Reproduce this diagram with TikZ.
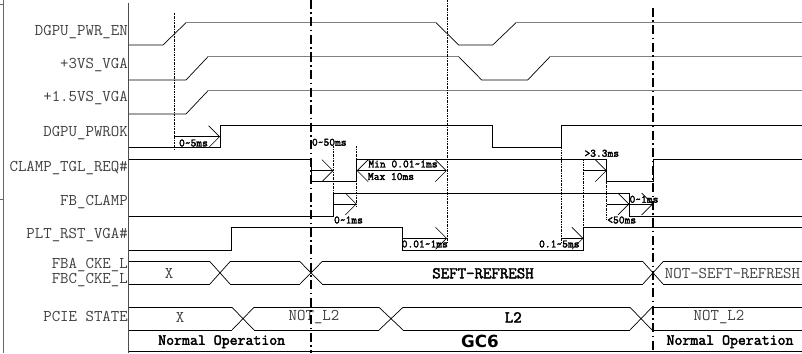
\documentclass[tikz,border=0pt]{standalone}
\usepackage{fontspec}
\newfontfamily\gcfont{DejaVu Sans}
\newfontfamily\boldmono{Latin Modern Mono}[FakeBold=2.5]
\usetikzlibrary{arrows.meta}

\tikzset{
  siglabel/.style={anchor=east, inner sep=0pt, text=black!75,
    font=\ttfamily\fontsize{16.4}{13.2}\selectfont},
  timetext/.style={inner sep=0pt, font=\boldmono\fontsize{11.2}{11}\selectfont},
  bustext/.style={inner sep=0pt, text=black!75, font=\ttfamily\fontsize{16.4}{16}\selectfont},
  busbold/.style={inner sep=0pt, font=\boldmono\fontsize{16.4}{16}\selectfont},
  phasetext/.style={inner sep=0pt, font=\boldmono\fontsize{15.4}{16}\selectfont},
  wave/.style={line width=0.7pt, black},
  wavehigh/.style={line width=1.4pt, black!50},
  phase/.style={line width=2.2pt, dash pattern=on 9pt off 3.5pt on 1.5pt off 3.5pt},
  guide/.style={line width=0.5pt, dash pattern=on 2pt off 1pt on 0.6pt off 1pt},
  dim/.style={line width=0.6pt, -{Straight Barb[length=11pt,width=22pt]}},
  dimboth/.style={line width=0.6pt, {Straight Barb[length=11pt,width=22pt]}-{Straight Barb[length=11pt,width=22pt]}},
}

\begin{document}
\begin{tikzpicture}[x=1pt,y=-1pt]
\useasboundingbox (0,0) rectangle (802,353);

% frame
\draw[black!60, line width=0.7pt] (3,0) -- (3,353);
\draw[black!60, line width=0.7pt] (0,4) -- (3,4);
\draw[black!60, line width=0.7pt] (0,199) -- (3,199);
\draw[black!70, line width=0.8pt] (128.5,3) -- (128.5,353);
\draw[wave] (129,351.7) -- (802,351.7);

% signal names
\node[siglabel] (pwren) at (128,31.7) {DGPU\_PWR\_EN};
\node[siglabel] (vs3) at (128,65) {+3VS\_VGA};
\node[siglabel] (vs15) at (128,98.5) {+1.5VS\_VGA};
\node[siglabel] (pwrok) at (128,132.7) {DGPU\_PWROK};
\node[siglabel] (clampreq) at (128,168) {CLAMP\_TGL\_REQ\#};
\node[siglabel] (fbclamp) at (128,201.7) {FB\_CLAMP};
\node[siglabel] (pltrst) at (128,235) {PLT\_RST\_VGA\#};
\node[siglabel, align=right] (ckelabel) at (128,272.5) {FBA\_CKE\_L\\FBC\_CKE\_L};
\node[siglabel] (pcie) at (128,316.7) {PCIE STATE};

% DGPU_PWR_EN
\draw[wave] (129,45) -- (163,45) -- (186,22.7);
\draw[wavehigh] (186,22.7) -- (436,22.7);
\draw[wave] (436,22.7) -- (458.7,45) -- (492.7,45) -- (516,22.7);
\draw[wavehigh] (516,22.7) -- (802,22.7);
% +3VS_VGA
\draw[wave] (129,80) -- (186,80) -- (208,56.7);
\draw[wavehigh] (208,56.7) -- (458.7,56.7);
\draw[wave] (458.7,56.7) -- (481.7,80) -- (527.7,80) -- (550,56.7);
\draw[wavehigh] (550,56.7) -- (802,56.7);
% +1.5VS_VGA
\draw[wave] (129,114) -- (186,114) -- (208,90.7);
\draw[wavehigh] (208,90.7) -- (802,90.7);
% DGPU_PWROK
\draw[wave] (129,147.3) -- (220,147.3) -- (220,125) -- (492.7,125) -- (492.7,147.3)
  -- (561,147.3) -- (561,125) -- (802,125);
% CLAMP_TGL_REQ#
\draw[wave] (129,159.3) -- (311,159.3) -- (311,181.7) -- (356.7,181.7) -- (356.7,159.3)
  -- (606.7,159.3) -- (606.7,181.7) -- (653,181.7) -- (653,159.3) -- (802,159.3);
% FB_CLAMP
\draw[wave] (129,216) -- (333.3,216) -- (333.3,193.3) -- (629.3,193.3) -- (629.3,216) -- (802,216);
% PLT_RST_VGA#
\draw[wave] (129,250) -- (231,250) -- (231,227.7) -- (402.3,227.7) -- (402.3,250)
  -- (583.3,250) -- (583.3,227.7) -- (802,227.7);

% FBA/FBC_CKE_L bus
\draw[wave] (129,261.7) -- (210,261.7) (129,284) -- (210,284);
\draw[wave] (230,261.7) -- (300,261.7) (230,284) -- (300,284);
\draw[wave] (322,261.7) -- (643,261.7) (322,284) -- (643,284);
\draw[wave] (663,261.7) -- (802,261.7) (663,284) -- (802,284);
\foreach \c/\w in {220/10, 311/11, 653/10}
  \draw[wave] (\c-\w,261.7) -- (\c+\w,284) (\c-\w,284) -- (\c+\w,261.7);
\node[bustext] (ckex) at (169,273.3) {X};
\node[busbold] (ckesr) at (483,273.3) {SEFT-REFRESH};
\node[bustext] (ckensr) at (732.5,273.3) {NOT-SEFT-REFRESH};

% PCIE STATE bus
\draw[wave] (129,307.3) -- (232,307.3) (129,330) -- (232,330);
\draw[wave] (254,307.3) -- (379,307.3) (254,330) -- (379,330);
\draw[wave] (403,307.3) -- (630,307.3) (403,330) -- (630,330);
\draw[wave] (652,307.3) -- (802,307.3) (652,330) -- (802,330);
\foreach \c/\w in {243/11, 391/12, 641/11}
  \draw[wave] (\c-\w,307.3) -- (\c+\w,330) (\c-\w,330) -- (\c+\w,307.3);
\node[bustext] (pciex) at (180,317.3) {X};
\node[bustext] (pcienot) at (314,317.3) {NOT\_L2};
\node[busbold] (pciel2) at (513.3,317.3) {L2};
\node[bustext] (pcienot2) at (719,317.3) {NOT\_L2};

% phases
\node[phasetext] (normal1) at (221.7,341.7) {Normal Operation};
\node[inner sep=0pt, font=\gcfont\bfseries\fontsize{16.7}{17}\selectfont] (gc6) at (480,341.7) {GC6};
\node[phasetext] (normal2) at (730,341.7) {Normal Operation};
\draw[phase] (311,0) -- (311,353);
\draw[phase] (653,8) -- (653,353);

% guide lines
\draw[guide] (174.3,12.7) -- (174.3,150);
\draw[guide] (333.3,146) -- (333.3,193.3);
\draw[guide] (356.7,146) -- (356.7,206);
\draw[guide] (447,0) -- (447,243);
\draw[guide] (561,147.3) -- (561,243);
\draw[guide] (583.3,159.3) -- (583.3,227.7);
\draw[guide] (606.7,181.7) -- (606.7,220);

% timing marks
\coordinate (t1a) at (174.3,136.7); \coordinate (t1b) at (220,136.7);
\coordinate (t2a) at (311,170.7);   \coordinate (t2b) at (333.3,170.7);
\coordinate (t3a) at (356.7,170.7); \coordinate (t3b) at (446.7,170.7);
\coordinate (t4a) at (333.3,204);   \coordinate (t4b) at (356.7,204);
\coordinate (t5a) at (402.3,238.3); \coordinate (t5b) at (447,238.3);
\coordinate (t6a) at (561,238.3);   \coordinate (t6b) at (583.3,238.3);
\coordinate (t7a) at (583.3,170.7); \coordinate (t7b) at (606.7,170.7);
\coordinate (t8a) at (606.7,204);   \coordinate (t8b) at (629.3,204);
\coordinate (t9a) at (629.3,204);   \coordinate (t9b) at (653,204);
\draw[dim] (t1a) -- (t1b);
\draw[dim] (t2a) -- (t2b);
\draw[dimboth] (t3a) -- (t3b);
\draw[dim] (t4a) -- (t4b);
\draw[dim] (t5a) -- (t5b);
\draw[dim] (t6a) -- (t6b);
\draw[dim] (t7a) -- (t7b);
\draw[dim] (t8a) -- (t8b);
\draw[dim] (t9a) -- (t9b);
\node[timetext] (l1) at (193.5,143) {0\textasciitilde5ms};
\node[timetext] (l2) at (329.3,142.3) {0\textasciitilde50ms};
\node[timetext] (l3) at (403,164) {Min 0.01\textasciitilde1ms};
\node[timetext] (l3b) at (391,176.5) {Max 10ms};
\node[timetext] (l4) at (348.5,220) {0\textasciitilde1ms};
\node[timetext] (l5) at (424.8,244) {0.01\textasciitilde1ms};
\node[timetext] (l6) at (559.3,244) {0.1\textasciitilde5ms};
\node[timetext] (l7) at (601.8,153.3) {>3.3ms};
\node[timetext] (l8) at (621.7,220) {<50ms};
\node[timetext] (l9) at (644,199.3) {0\textasciitilde1ms};
\end{tikzpicture}
\end{document}
